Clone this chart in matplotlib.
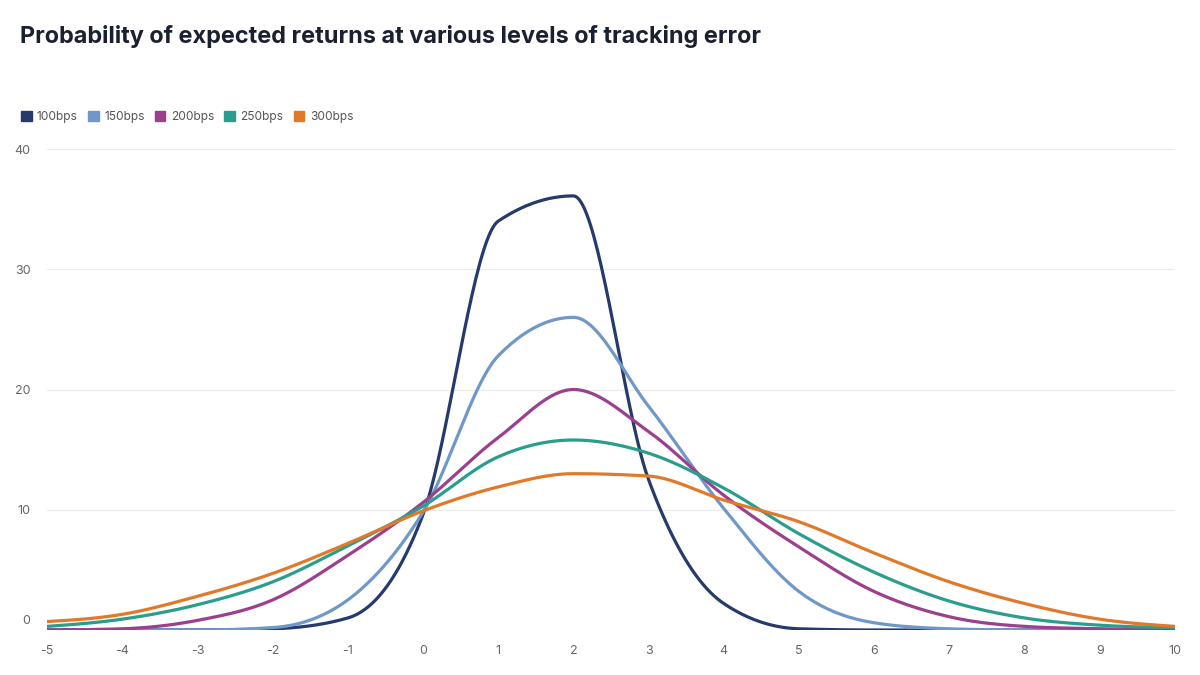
import numpy as np
import matplotlib
matplotlib.use("Agg")
import matplotlib.pyplot as plt
from matplotlib.patches import Patch
import matplotlib.transforms as mtransforms

plt.rcParams['font.family'] = ['Inter', 'DejaVu Sans']

x_vals = list(range(-5, 11))
series_names = ["100bps", "150bps", "200bps", "250bps", "300bps"]
s100 = [0, 0, 0, 0.1, 1.0, 9.6, 34.0, 36.1, 12.5, 2.2, 0.1, 0, 0, 0, 0, 0]
s150 = [0, 0, 0, 0.2, 2.5, 9.8, 22.8, 26.0, 18.6, 10.1, 3.2, 0.6, 0.1, 0, 0, 0]
s200 = [0, 0.1, 0.8, 2.5, 6.2, 10.6, 16.0, 20.0, 16.5, 11.2, 6.9, 3.2, 1.1, 0.3, 0.1, 0]
s250 = [0.3, 0.9, 2.1, 4.0, 7.0, 10.3, 14.4, 15.8, 14.7, 11.8, 8.0, 4.8, 2.4, 1.0, 0.4, 0.2]
s300 = [0.7, 1.3, 2.8, 4.7, 7.2, 9.9, 11.9, 13.0, 12.8, 10.8, 9.0, 6.4, 4.0, 2.2, 0.9, 0.3]
colors = ["#263a6b", "#6f98c9", "#9c3f8e", "#2a9d8c", "#e0792a"]
y_ticks = [0, 10, 20, 30, 40]


def monotone_curve(x, y, per=40):
    x = np.asarray(x, float)
    y = np.asarray(y, float)
    n = len(x)
    h = np.diff(x)
    s = np.diff(y) / h
    t = np.zeros(n)
    for i in range(1, n - 1):
        s0, s1 = s[i - 1], s[i]
        p = (s0 * h[i] + s1 * h[i - 1]) / (h[i - 1] + h[i])
        t[i] = (np.sign(s0) + np.sign(s1)) * min(abs(s0), abs(s1), 0.5 * abs(p))
    t[0] = (3 * s[0] - t[1]) / 2
    t[-1] = (3 * s[-1] - t[-2]) / 2
    xs, ys = [], []
    for i in range(n - 1):
        u = np.linspace(0, 1, per, endpoint=(i == n - 2))
        h00 = 2 * u**3 - 3 * u**2 + 1
        h10 = u**3 - 2 * u**2 + u
        h01 = -2 * u**3 + 3 * u**2
        h11 = u**3 - u**2
        xs.append(x[i] + u * h[i])
        ys.append(h00 * y[i] + h10 * h[i] * t[i] + h01 * y[i + 1] + h11 * h[i] * t[i + 1])
    return np.concatenate(xs), np.concatenate(ys)


fig = plt.figure(figsize=(12, 6.75), dpi=100)
ax = fig.add_axes([47 / 1200, 45 / 675, (1175 - 47) / 1200, (630 - 149) / 675])

for name, data, c in zip(series_names, [s100, s150, s200, s250, s300], colors):
    xs, ys = monotone_curve(x_vals, data)
    ax.plot(xs, ys, color=c, lw=2.3, solid_capstyle='round', zorder=3)

ax.set_xlim(-5, 10)
ax.set_ylim(0, 40)
ax.set_xticks(x_vals)
ax.set_xticklabels([str(v) for v in x_vals])
ax.set_yticks(y_ticks)
for sp in ax.spines.values():
    sp.set_visible(False)
ax.grid(axis='y', color='#ebebeb', lw=0.8)
ax.grid(axis='x', visible=False)
ax.set_axisbelow(True)
ax.tick_params(axis='both', length=0, labelsize=9, labelcolor='#666666')
ax.tick_params(axis='x', pad=11)
ax.tick_params(axis='y', pad=12)
# shift the "0" y label up a little as in the reference
for lbl in ax.get_yticklabels():
    if lbl.get_text() == '0':
        lbl.set_transform(lbl.get_transform() + mtransforms.ScaledTranslation(0, 10 / 100, fig.dpi_scale_trans))

fig.text(20 / 1200, 1 - 37 / 675, "Probability of expected returns at various levels of tracking error",
         fontsize=16.9, fontweight='bold', color='#1b2030', va='center', ha='left')

handles = [Patch(facecolor=c, edgecolor=c) for c in colors]
fig.legend(handles, series_names, loc='center left', bbox_to_anchor=(10 / 1200, 1 - 117 / 675),
           ncol=5, frameon=False, fontsize=8.6, handlelength=0.9, handleheight=0.9,
           handletextpad=0.45, columnspacing=0.85, labelcolor='#555555')

fig.savefig("out.png", dpi=100, facecolor='white')
